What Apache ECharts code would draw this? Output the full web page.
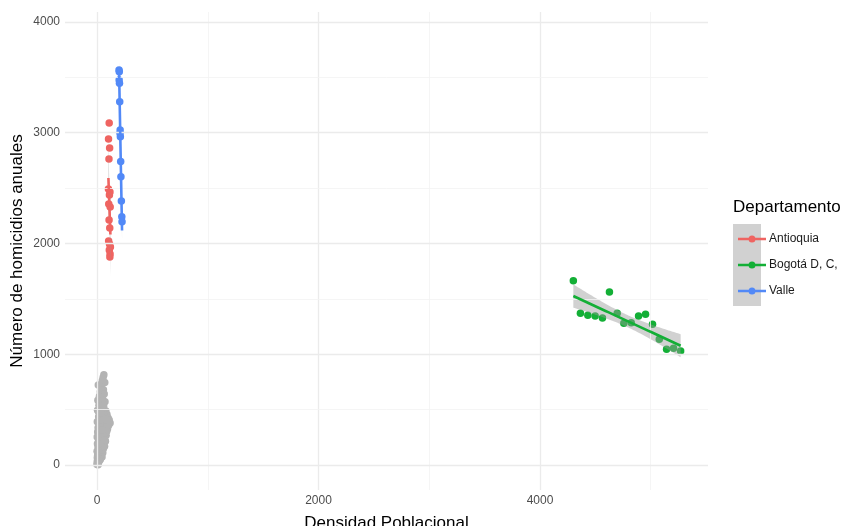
<!DOCTYPE html>
<html>
<head>
<meta charset="utf-8">
<script src="https://cdn.jsdelivr.net/npm/echarts@6/dist/echarts.min.js"></script>
<style>
  html, body { margin: 0; padding: 0; background: #ffffff; }
  #chart { width: 846px; height: 526px; }
</style>
</head>
<body>
<div id="chart"></div>
<script>
// Departments shown in colour, with their key colours
const departments = ['Antioquia', 'Bogotá D, C,', 'Valle'];
const deptColors = ['#EF6461', '#13AF36', '#5289F7'];

// Antioquia: population density vs. annual homicides
const antioquiaDensity   = [110, 104, 114, 108, 103, 117, 112, 106, 119, 109, 115, 105, 113, 121, 111, 118, 116];
const antioquiaHomicides = [3088, 2944, 2862, 2763, 2492, 2465, 2438, 2357, 2330, 2212, 2140, 2023, 1996, 1968, 1941, 1905, 1878];

// Bogotá D.C.
const bogotaDensity   = [4301, 4365, 4432, 4498, 4564, 4627, 4697, 4757, 4824, 4890, 4953, 5016, 5077, 5143, 5206, 5270];
const bogotaHomicides = [1664, 1370, 1352, 1345, 1327, 1562, 1370, 1279, 1285, 1345, 1361, 1270, 1135, 1045, 1054, 1029];

// Valle
const valleDensity   = [199, 201, 200, 203, 205, 209, 208, 211, 214, 216, 220, 224, 226];
const valleHomicides = [3567, 3551, 3477, 3447, 3280, 3025, 2995, 2964, 2739, 2603, 2384, 2242, 2197];

// Remaining departments (grey)
const otherDensity = [62, 55, 48, 70, 12, 40, 58, 30, 65, 22, 50, 8, 72, 35, 18, 60, 44, 5, 80, 28,
  90, 52, 15, 100, 38, 110, 68, 3, 118, 85, 25, 105, 46, 75, 10, 95, 58, 33, 88, 6,
  70, 42, 20, 82, 55, 2, 65, 30, 48, 14, 76, 38, 60, 4, 24, 50, 68, 9, 35, 58,
  18, 44, 1, 28, 52, 12, 36, 6, 22, 45, 3, 15, 30, 8, 20, 2, 12, 5, 0, 10,
  25, 45, 15, 62, 32, 78, 92, 40, 66, 26, 96, 54, 12, 40, 70, 57, 34, 84, 47, 19];
const otherHomicides = [815, 790, 760, 745, 722, 700, 680, 660, 640, 620, 600, 585, 570, 555, 540, 525, 510, 495, 488, 470,
  455, 448, 435, 425, 418, 405, 398, 390, 380, 372, 365, 358, 350, 342, 335, 328, 320, 312, 305, 298,
  290, 282, 275, 268, 260, 252, 245, 238, 230, 222, 215, 208, 200, 192, 185, 178, 170, 162, 155, 148,
  140, 132, 125, 118, 110, 102, 95, 88, 80, 72, 65, 58, 50, 42, 35, 28, 20, 12, 5, 2,
  610, 575, 480, 460, 395, 430, 385, 345, 330, 300, 355, 285, 260, 250, 225, 540, 470, 410, 315, 190];

// Axis ticks and grid
const xTicks = [0, 2000, 4000];
const xMinorGrid = [1000, 3000, 5000];
const yTicks = [0, 1000, 2000, 3000, 4000];
const yMinorGrid = [500, 1500, 2500, 3500];

const pairs = (xs, ys) => xs.map((x, i) => [x, ys[i]]);

// Two-sided 95% Student t quantiles by degrees of freedom
function tQuantile(df) {
  const table = {8: 2.306, 9: 2.262, 10: 2.228, 11: 2.201, 12: 2.179, 13: 2.160, 14: 2.145, 15: 2.131, 16: 2.120, 17: 2.110, 18: 2.101};
  return table[df] || 1.96;
}

// Ordinary least squares fit with 95% confidence band
function linearFit(xs, ys) {
  const n = xs.length;
  const mx = xs.reduce((a, b) => a + b, 0) / n;
  const my = ys.reduce((a, b) => a + b, 0) / n;
  let sxx = 0, sxy = 0;
  for (let i = 0; i < n; i++) { sxx += (xs[i] - mx) ** 2; sxy += (xs[i] - mx) * (ys[i] - my); }
  const b = sxy / sxx, a = my - b * mx;
  let sse = 0;
  for (let i = 0; i < n; i++) sse += (ys[i] - (a + b * xs[i])) ** 2;
  const s = Math.sqrt(sse / (n - 2));
  const t = tQuantile(n - 2);
  const xmin = Math.min(...xs), xmax = Math.max(...xs);
  const steps = 80;
  const upper = [], lower = [], line = [];
  for (let k = 0; k <= steps; k++) {
    const x = xmin + (xmax - xmin) * k / steps;
    const yhat = a + b * x;
    const se = s * Math.sqrt(1 / n + (x - mx) ** 2 / sxx);
    line.push([x, yhat]);
    upper.push([x, yhat + t * se]);
    lower.push([x, yhat - t * se]);
  }
  return { line, band: upper.concat(lower.reverse()) };
}

const groups = [
  pairs(antioquiaDensity, antioquiaHomicides),
  pairs(bogotaDensity, bogotaHomicides),
  pairs(valleDensity, valleHomicides)
];
const fits = [
  linearFit(antioquiaDensity, antioquiaHomicides),
  linearFit(bogotaDensity, bogotaHomicides),
  linearFit(valleDensity, valleHomicides)
];

const FONT = '"Liberation Sans", Arial, Helvetica, sans-serif';
const majorGrid = { color: '#ebebeb', width: 1.3, type: 'solid' };
const minorGrid = { color: '#f2f2f2', width: 0.8, type: 'solid' };

const gridLines = []
  .concat(xTicks.map(v => ({ xAxis: v, lineStyle: majorGrid })))
  .concat(xMinorGrid.map(v => ({ xAxis: v, lineStyle: minorGrid })))
  .concat(yTicks.map(v => ({ yAxis: v, lineStyle: majorGrid })))
  .concat(yMinorGrid.map(v => ({ yAxis: v, lineStyle: minorGrid })));

const series = [];

// Panel grid lines
series.push({
  type: 'line', name: 'grid', data: [], silent: true, z: 0,
  markLine: { silent: true, symbol: ['none', 'none'], label: { show: false }, animation: false, data: gridLines }
});

// Other departments
series.push({
  type: 'scatter', name: 'otros', data: pairs(otherDensity, otherHomicides),
  symbolSize: 7.5, itemStyle: { color: '#b3b3b3', opacity: 1 }, z: 2, silent: true
});

departments.forEach((name, i) => {
  series.push({
    type: 'scatter', name, data: groups[i], symbolSize: 7.5,
    itemStyle: { color: deptColors[i], opacity: 1 }, z: 3
  });
  // confidence band
  series.push({
    type: 'custom', name, z: 4, silent: true,
    data: [0],
    renderItem: (params, api) => ({
      type: 'polygon',
      shape: { points: fits[i].band.map(p => api.coord(p)) },
      style: { fill: 'rgba(153,153,153,0.45)' }
    }),
    clip: true
  });
  // fitted line
  series.push({
    type: 'line', name, data: fits[i].line, showSymbol: false, symbol: 'none', z: 5, silent: true,
    lineStyle: { color: deptColors[i], width: 2.6 }, itemStyle: { color: deptColors[i] }
  });
});

const chart = echarts.init(document.getElementById('chart'), null, { renderer: 'canvas' });
chart.setOption({
  animation: false,
  backgroundColor: '#ffffff',
  textStyle: { fontFamily: FONT },
  grid: { left: 65, right: 138, top: 12, bottom: 36, containLabel: false, outerBoundsMode: 'none' },
  xAxis: {
    type: 'value', min: -289, max: 5517,
    name: 'Densidad Poblacional', nameLocation: 'middle', nameGap: 25, nameMoveOverlap: false,
    nameTextStyle: { fontSize: 17, color: '#000000', fontFamily: FONT },
    axisLine: { show: false }, axisTick: { show: false }, splitLine: { show: false },
    axisLabel: { customValues: xTicks, formatter: v => String(v), fontSize: 12, color: '#4d4d4d', margin: 5, fontFamily: FONT }
  },
  yAxis: {
    type: 'value', min: -226, max: 4090,
    name: 'Número de homicidios anuales', nameLocation: 'middle', nameGap: 39, nameMoveOverlap: false,
    nameTextStyle: { fontSize: 17, color: '#000000', fontFamily: FONT },
    axisLine: { show: false }, axisTick: { show: false }, splitLine: { show: false },
    axisLabel: { customValues: yTicks, formatter: v => String(v), fontSize: 12, color: '#4d4d4d', margin: 5, fontFamily: FONT }
  },
  legend: {
    data: departments,
    orient: 'vertical', left: 733, top: 228,
    itemWidth: 28, itemHeight: 7, itemGap: 14,
    icon: 'path://M0,2.3 L10.6,2.3 L10.6,4.7 L0,4.7 Z M17.4,2.3 L28,2.3 L28,4.7 L17.4,4.7 Z M10.5,3.5 A3.5,3.5 0 0,1 17.5,3.5 A3.5,3.5 0 0,1 10.5,3.5 Z',
    textStyle: { fontSize: 12, color: '#1a1a1a', fontFamily: FONT, padding: [0, 0, 0, -2] },
    selectedMode: false
  },
  graphic: [
    { type: 'rect', left: 733, top: 224, shape: { width: 28, height: 82 }, style: { fill: '#d1d1d1' }, z: -1 },
    { type: 'text', left: 733, top: 199, style: { text: 'Departamento', font: '17px ' + FONT, fill: '#000000' } }
  ],
  series
});
</script>
</body>
</html>
